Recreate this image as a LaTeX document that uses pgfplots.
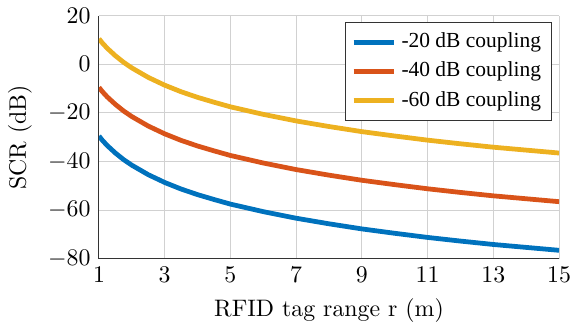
\documentclass[border=0pt]{standalone}
\usepackage{pgfplots}
\pgfplotsset{compat=1.18}
\usepackage{fontspec}
\newfontfamily\legfont{Liberation Serif}
\definecolor{mblue}{rgb}{0,0.447,0.741}
\definecolor{mred}{rgb}{0.85,0.325,0.098}
\definecolor{myellow}{rgb}{0.929,0.694,0.125}
\begin{document}
\begin{tikzpicture}
\begin{axis}[
  scale only axis, width=193pt, height=102pt,
  xmin=1, xmax=15, ymin=-80, ymax=20,
  xtick={1,3,...,15}, ytick={-80,-60,...,20},
  axis x line*=bottom, axis y line*=left,
  axis line style={black!80},
  grid=major, grid style={black!18},
  xlabel={RFID tag range r (m)}, ylabel={SCR (dB)},
  tick align=inside, major tick length=0pt,
  legend style={font=\legfont\small, draw=black!80, at={(0.985,0.975)}, anchor=north east, row sep=0.5pt, inner sep=2.5pt},
  legend cell align=left,
  every axis plot/.append style={line width=2pt},
]
\addplot[mblue] coordinates {(1,-29.5)(1.1,-31.2)(1.25,-33.4)(1.5,-36.5)(1.75,-39.2)(2,-41.5)(2.5,-45.4)(3,-48.6)(3.5,-51.3)(4,-53.6)(4.5,-55.6)(5,-57.5)(6,-60.6)(7,-63.3)(8,-65.6)(9,-67.7)(10,-69.5)(11,-71.2)(12,-72.7)(13,-74.1)(14,-75.3)(15,-76.5)};
\addlegendentry{-20 dB coupling}
\addplot[mred] coordinates {(1,-9.5)(1.1,-11.2)(1.25,-13.4)(1.5,-16.5)(1.75,-19.2)(2,-21.5)(2.5,-25.4)(3,-28.6)(3.5,-31.3)(4,-33.6)(4.5,-35.6)(5,-37.5)(6,-40.6)(7,-43.3)(8,-45.6)(9,-47.7)(10,-49.5)(11,-51.2)(12,-52.7)(13,-54.1)(14,-55.3)(15,-56.5)};
\addlegendentry{-40 dB coupling}
\addplot[myellow] coordinates {(1,10.5)(1.1,8.8)(1.25,6.6)(1.5,3.5)(1.75,0.8)(2,-1.5)(2.5,-5.4)(3,-8.6)(3.5,-11.3)(4,-13.6)(4.5,-15.6)(5,-17.5)(6,-20.6)(7,-23.3)(8,-25.6)(9,-27.7)(10,-29.5)(11,-31.2)(12,-32.7)(13,-34.1)(14,-35.3)(15,-36.5)};
\addlegendentry{-60 dB coupling}
\end{axis}
\end{tikzpicture}
\end{document}
